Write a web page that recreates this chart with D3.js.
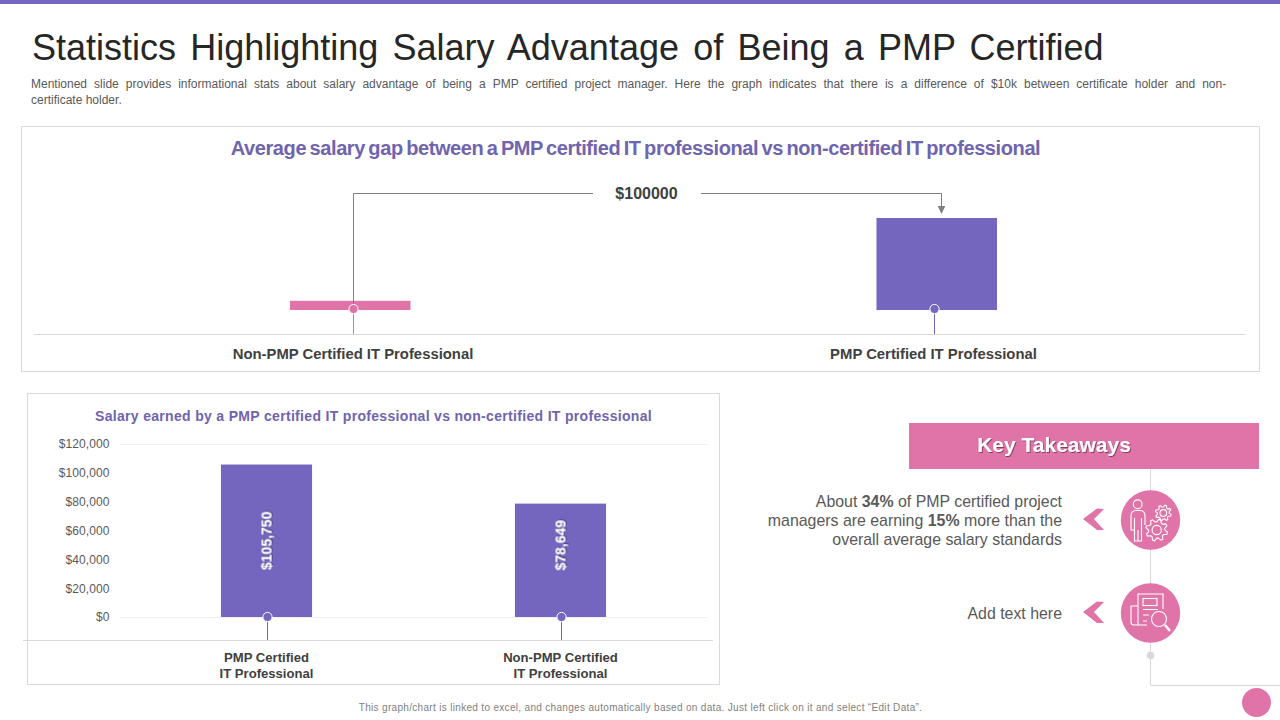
<!DOCTYPE html>
<html><head><meta charset="utf-8">
<script src="https://cdnjs.cloudflare.com/ajax/libs/d3/7.8.5/d3.min.js"></script>
<style>
html,body{margin:0;padding:0;background:#fff;overflow:hidden}
svg{display:block}
text{font-family:"Liberation Sans",Arial,sans-serif}
</style></head><body>
<svg id="c" width="1280" height="720"></svg>
<script>
const gapCategories = ["Non-PMP Certified IT Professional","PMP Certified IT Professional"];
const gapValues = [10000,100000];
const gapLabel = "$100000";
const salaryCategories = [["PMP Certified","IT Professional"],["Non-PMP Certified","IT Professional"]];
const salaryValues = [105750,78649];
const salaryTicks = [0,20000,40000,60000,80000,100000,120000];
const salaryGrid = [0,120000];
const PURPLE="#7466BE", TITLEC="#6F64AE", PINK="#E074A9", GREY="#D9D9D9", TXT="#404040";

const svg=d3.select("#c");
svg.append("defs").append("filter").attr("id","sh").attr("x","-20%").attr("y","-20%").attr("width","140%").attr("height","140%")
  .append("feDropShadow").attr("dx",1).attr("dy",1).attr("stdDeviation",.7).attr("flood-color","#000").attr("flood-opacity",.45);
const T=(x,y,s,o={})=>svg.append("text").attr("x",x).attr("y",y).text(s)
  .attr("font-size",o.size||12).attr("fill",o.fill||TXT).attr("font-weight",o.bold?"bold":null)
  .attr("text-anchor",o.anchor||"start").attr("word-spacing",o.ws||null).attr("letter-spacing",o.ls||null);
const L=(a,b,c,d,col,w=1)=>svg.append("line").attr("x1",a).attr("y1",b).attr("x2",c).attr("y2",d).attr("stroke",col).attr("stroke-width",w);

svg.append("rect").attr("width",1280).attr("height",4).attr("fill",PURPLE);
T(32,60,"Statistics Highlighting Salary Advantage of Being a PMP Certified",{size:36,fill:"#262626",ws:"4.2px"});
T(31,88,"Mentioned slide provides informational stats about salary advantage of being a PMP certified project manager. Here the graph indicates that there is a difference of $10k between certificate holder and non-",{size:12,fill:"#595959",ws:"3.7px"});
T(31,104,"certificate holder.",{size:12,fill:"#595959"});

// panels
svg.append("rect").attr("x",21.5).attr("y",126.5).attr("width",1238).attr("height",245).attr("fill","#fff").attr("stroke",GREY);
svg.append("rect").attr("x",27.5).attr("y",393.5).attr("width",692).attr("height",291).attr("fill","#fff").attr("stroke",GREY);

// top chart
T(635.5,155,"Average salary gap between a PMP certified IT professional vs non-certified IT professional",{size:20,fill:TITLEC,bold:true,anchor:"middle",ls:"-.4px",ws:"-1.75px"});
const x1=d3.scaleBand().domain(gapCategories).range([290,997]).paddingInner(0.7945).paddingOuter(0);
const y1=d3.scaleLinear().domain([0,100000]).range([310,218]);
const barCols=[PINK,PURPLE];
svg.append("g").selectAll("rect").data(gapValues).join("rect")
  .attr("x",(d,i)=>x1(gapCategories[i])).attr("width",x1.bandwidth())
  .attr("y",d=>y1(d)).attr("height",d=>y1(0)-y1(d)).attr("fill",(d,i)=>barCols[i]);
L(34,334.5,1245,334.5,GREY);
const anchors1=[353.5,934.5];
// bracket
svg.append("path").attr("fill","none").attr("stroke","#7f7f7f").attr("stroke-width",1)
  .attr("d",`M353.5 309V193.5H593M701 193.5H941.5V207`);
svg.append("path").attr("fill","#7f7f7f").attr("d","M937.7 206H945.3L941.5 214Z");
T(646.5,199,gapLabel,{size:16,bold:true,fill:TXT,anchor:"middle"});
anchors1.forEach((a,i)=>{
  L(a,310,a,334,barCols[i]);
  svg.append("circle").attr("cx",a).attr("cy",309).attr("r",4.6).attr("fill",barCols[i]).attr("stroke","#fff").attr("stroke-width",1);
});
T(353,359,gapCategories[0],{size:14.85,bold:true,anchor:"middle"});
T(933.5,359,gapCategories[1],{size:14.85,bold:true,anchor:"middle"});

// bottom chart
T(373.5,421,"Salary earned by a PMP certified IT professional vs non-certified IT professional",{size:14,fill:TITLEC,bold:true,anchor:"middle",ls:"0.32px"});
const x2=d3.scaleBand().domain(salaryCategories.map(d=>d.join(" "))).range([119.5,707.5]).paddingInner(0.69).paddingOuter(0.345);
const y2=d3.scaleLinear().domain([0,120000]).range([617,444]);
const yAxis=d3.axisLeft(y2).tickValues(salaryTicks).tickSize(0).tickPadding(10).tickFormat(d3.format("$,"));
const gy=svg.append("g").attr("transform","translate(119.5,0)").call(yAxis);
gy.select(".domain").remove();
gy.selectAll("text").attr("font-size",12).attr("fill","#595959").attr("font-family",'"Liberation Sans",Arial,sans-serif').attr("letter-spacing",".1px");
svg.append("g").selectAll("line").data(salaryGrid).join("line")
  .attr("x1",119.5).attr("x2",707.5).attr("y1",d=>y2(d)+.5).attr("y2",d=>y2(d)+.5).attr("stroke","#F0F0F0");
const labelNudge=[0,-15];
salaryValues.forEach((v,i)=>{
  const k=salaryCategories[i].join(" "), bx=x2(k), cx=bx+x2.bandwidth()/2;
  svg.append("rect").attr("x",bx).attr("width",x2.bandwidth()).attr("y",y2(v)).attr("height",y2(0)-y2(v)).attr("fill",PURPLE);
  svg.append("text").attr("transform",`translate(${cx+5},${(y2(v)+y2(0))/2 + labelNudge[i]}) rotate(-90)`)
    .attr("text-anchor","middle").attr("font-size",14).attr("font-weight","bold").attr("fill","#fff").attr("filter","url(#sh)").text(d3.format("$,")(v));
  const sx=Math.round(cx)+.5;
  L(sx,617,sx,640,PURPLE);
  svg.append("circle").attr("cx",sx).attr("cy",617).attr("r",4.6).attr("fill",PURPLE).attr("stroke","#fff").attr("stroke-width",1);
  T(cx,662,salaryCategories[i][0],{size:13.1,bold:true,anchor:"middle"});
  T(cx,678,salaryCategories[i][1],{size:13.1,bold:true,anchor:"middle"});
});
L(23,640.5,713,640.5,GREY);

// takeaways
svg.append("path").attr("fill","none").attr("stroke",GREY).attr("d","M1150.5 469V685.5H1280");
svg.append("rect").attr("x",909).attr("y",423).attr("width",350).attr("height",46).attr("fill",PINK);
T(1054,452,"Key Takeaways",{size:21,bold:true,fill:"#fff",anchor:"middle"}).attr("filter","url(#sh)");
const rt=(y,parts,ws)=>{const t=svg.append("text").attr("x",1062).attr("y",y).attr("text-anchor","end").attr("font-size",15.9).attr("fill","#595959").attr("word-spacing",ws);
  parts.forEach(p=>t.append("tspan").attr("font-weight",p[1]?"bold":null).text(p[0]));};
rt(507,[["About "],["34%",1],[" of PMP certified project"]],"0");
rt(526,[["managers are earning "],["15%",1],[" more than the"]],"0");
rt(545,[["overall average salary standards"]],"0");
rt(619,[["Add text here"]],"0");
[520,613].forEach(cy=>{
  svg.append("circle").attr("cx",1150.5).attr("cy",cy).attr("r",29.7).attr("fill",PINK);
  svg.append("path").attr("fill",PINK).attr("d",`M1083 ${cy-1}L1097 ${cy-11.5}L1104 ${cy-11}L1094 ${cy-1}L1104 ${cy+10}L1097 ${cy+10}Z`);
});
svg.append("circle").attr("cx",1150.5).attr("cy",655.5).attr("r",3.8).attr("fill",GREY);
svg.append("circle").attr("cx",1256.5).attr("cy",702.5).attr("r",14.5).attr("fill",PINK);

// icons
const ic=svg.append("g").attr("fill","none").attr("stroke","#fff").attr("stroke-width",1.1);
// person
ic.append("circle").attr("cx",1137.7).attr("cy",504.3).attr("r",4.4);
ic.append("path").attr("d","M1134.5 530H1131V516Q1131 510.5 1136 510.5H1140Q1145 510.5 1145 516V525M1134.5 518V541H1141.5V530M1138 541V530M1141.5 530V518");
const gear=(cx,cy,r)=>{
  ic.append("circle").attr("cx",cx).attr("cy",cy).attr("r",r*.42);
  const n=8,pts=[];
  for(let i=0;i<n*4;i++){const a=i/(n*4)*2*Math.PI;const rr=(i%4<2)?r:r*.74;pts.push([cx+rr*Math.cos(a+.2),cy+rr*Math.sin(a+.2)]);}
  ic.append("path").attr("d",d3.line()(pts)+"Z");
};
gear(1163.3,513,8); gear(1156.7,530,11);
// doc + magnifier
ic.append("path").attr("d","M1138 625H1134Q1131 625 1131 622V606H1138M1138 625V594H1163V609M1138 625H1147");
ic.append("rect").attr("x",1143).attr("y",598.5).attr("width",14).attr("height",7);
ic.append("path").attr("d","M1143 609.5H1158M1143 615H1149M1143 621H1147");
ic.append("circle").attr("cx",1159).attr("cy",619).attr("r",7.5);
ic.append("path").attr("stroke-width",2.4).attr("d","M1165 625L1170 631");

T(640.5,711,"This graph/chart is linked to excel, and changes automatically based on data. Just left click on it and select \u201cEdit Data\u201d.",{size:10,fill:"#7f7f7f",anchor:"middle",ls:".32px"});
</script>
</body></html>
